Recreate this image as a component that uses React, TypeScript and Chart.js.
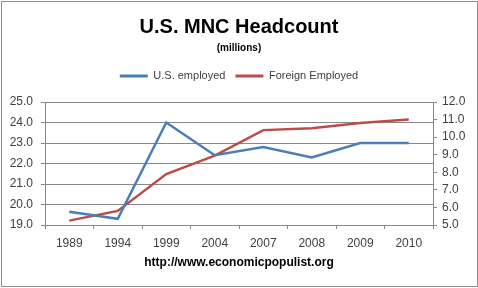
import React, { useEffect, useRef } from "react";
import { Chart, registerables } from "chart.js";

Chart.register(...registerables);

const years = ["1989", "1994", "1999", "2004", "2007", "2008", "2009", "2010"];
const usEmployed = [19.65, 19.3, 24.0, 22.4, 22.8, 22.3, 23.0, 23.0];
const foreignEmployed = [5.25, 5.8, 7.9, 8.95, 10.4, 10.5, 10.8, 11.0];

const FONT = "'Liberation Sans', Arial, sans-serif";
const BLUE = "#4A7EBB";
const RED = "#BE4B48";
const GRID = "#888888";
const TICK = "#404040";

export default function App() {
  const ref = useRef<HTMLCanvasElement | null>(null);

  useEffect(() => {
    if (!ref.current) return;
    const chart = new Chart(ref.current, {
      type: "line",
      data: {
        labels: years,
        datasets: [
          {
            label: "U.S. employed",
            data: usEmployed,
            borderColor: BLUE,
            backgroundColor: BLUE,
            borderWidth: 2.5,
            pointRadius: 0,
            tension: 0,
            xAxisID: "x",
            yAxisID: "y",
          },
          {
            label: "Foreign Employed",
            data: foreignEmployed,
            borderColor: RED,
            backgroundColor: RED,
            borderWidth: 2.5,
            pointRadius: 0,
            tension: 0,
            xAxisID: "x",
            yAxisID: "y1",
          },
        ],
      },
      options: {
        animation: false,
        responsive: false,
        maintainAspectRatio: false,
        layout: { padding: { left: 0, right: 0, top: 0, bottom: 13 } },
        plugins: {
          title: {
            display: true,
            text: "U.S. MNC Headcount",
            color: "#000",
            font: { family: FONT, size: 20, weight: "bold", lineHeight: 1.2 },
            padding: { top: 15, bottom: 2 },
          },
          subtitle: {
            display: true,
            text: "(millions)",
            color: "#000",
            font: { family: FONT, size: 10, weight: "bold", lineHeight: 1.2 },
            padding: { top: 1, bottom: 6.5 },
          },
          legend: {
            display: true,
            position: "top",
            labels: {
              color: TICK,
              font: { family: FONT, size: 11 },
              boxWidth: 28,
              boxHeight: 3,
              padding: 10,
              generateLabels: (c: any) => {
                const items = Chart.defaults.plugins.legend.labels.generateLabels(c);
                items.forEach((it: any) => {
                  it.lineWidth = 0;
                  it.fillStyle = it.strokeStyle;
                });
                return items;
              },
            },
          },
          tooltip: { enabled: false },
        },
        scales: {
          x: {
            type: "category",
            position: "bottom",
            offset: true,
            grid: {
              display: true,
              offset: true,
              drawOnChartArea: false,
              drawTicks: true,
              tickLength: 4,
              color: GRID,
            },
            border: { display: true, color: GRID },
            ticks: { color: TICK, font: { family: FONT, size: 12 }, padding: 7, maxRotation: 0 },
            title: {
              display: true,
              text: "http://www.economicpopulist.org",
              color: "#000",
              font: { family: FONT, size: 12, weight: "bold", lineHeight: 1.2 },
              padding: { top: 0, bottom: 4.8 },
            },
            afterFit: (s: any) => {
              s.height = 50;
            },
          },
          sp: {
            type: "category",
            axis: "x",
            position: "top",
            display: true,
            grid: { display: false, drawTicks: false },
            border: { display: false },
            ticks: { display: false },
            afterFit: (s: any) => {
              s.height = 10.5;
            },
          },
          y: {
            type: "linear",
            position: "left",
            min: 19,
            max: 25,
            ticks: {
              stepSize: 1,
              color: TICK,
              font: { family: FONT, size: 12 },
              padding: 8,
              callback: (v: any) => Number(v).toFixed(1),
            },
            grid: { color: GRID, tickLength: 4, drawTicks: true },
            border: { display: true, color: GRID },
            afterFit: (s: any) => {
              s.width = 45;
            },
          },
          y1: {
            type: "linear",
            position: "right",
            min: 5,
            max: 12,
            ticks: {
              stepSize: 1,
              color: TICK,
              font: { family: FONT, size: 12 },
              padding: 5,
              callback: (v: any) => Number(v).toFixed(1),
            },
            grid: { color: GRID, tickLength: 4, drawTicks: true, drawOnChartArea: false },
            border: { display: true, color: GRID },
            afterFit: (s: any) => {
              s.width = 45;
            },
          },
        },
      } as any,
    });
    return () => chart.destroy();
  }, []);

  return (
    <div style={{ position: "fixed", left: 0, top: 0, width: 478, height: 288, background: "#fff" }}>
      <canvas ref={ref} width={478} height={288} style={{ position: "absolute", left: 0, top: 0, width: 478, height: 288 }} />
      <div
        style={{
          position: "absolute",
          left: 1,
          top: 1,
          width: 477,
          height: 286,
          boxSizing: "border-box",
          border: "1px solid #8f8f8f",
          pointerEvents: "none",
        }}
      />
    </div>
  );
}
